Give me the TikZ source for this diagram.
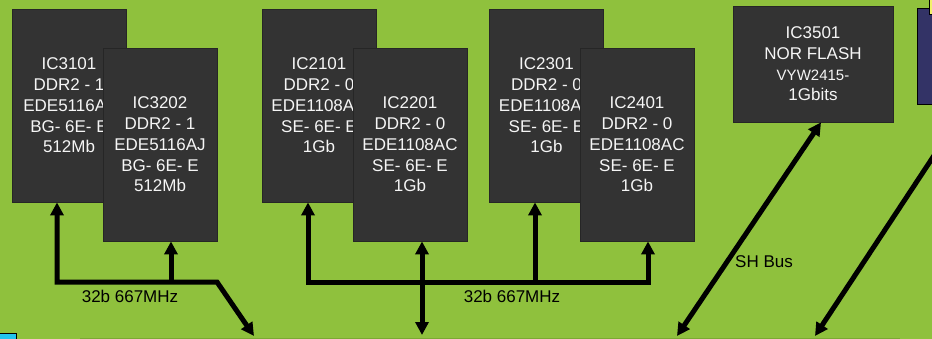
\documentclass[tikz,border=0pt]{standalone}
\usepackage{fontspec}
\setmainfont{Liberation Sans}
\usetikzlibrary{arrows.meta}
\definecolor{bg}{HTML}{8FC13D}
\definecolor{chipfill}{HTML}{333333}
\definecolor{navy}{HTML}{333366}
\definecolor{ylw}{HTML}{F2F26A}
\definecolor{cyanbox}{HTML}{22C4EE}
\definecolor{edgegreen}{HTML}{7CA834}
\tikzset{
  chip/.style={draw=black!85, line width=0.8pt, fill=chipfill, text=white!96!black,
    align=center, font=\fontsize{17}{20.7}\selectfont, inner sep=0pt},
  memchip/.style={chip, minimum width=114pt, minimum height=193pt},
  bus/.style={line width=5pt, draw=black},
  tip/.style={-{Triangle[length=13pt,width=13pt]}},
  dtip/.style={{Triangle[length=13pt,width=13pt]}-{Triangle[length=13pt,width=13pt]}},
  lbl/.style={font=\fontsize{17}{20}\selectfont, text=black, inner sep=0pt},
}
\begin{document}
\begin{tikzpicture}[x=1pt,y=-1pt]
\useasboundingbox (0,0) rectangle (932,339);
\clip (0,0) rectangle (932,339);
\fill[bg] (0,0) rectangle (932,339);

% memory chips
\node[memchip] (ic3101) at (69,105.5) {IC3101\\DDR2 - 1\\EDE5116AJ\\BG- 6E- E\\512Mb};
\node[memchip] (ic3202) at (160,144.5) {IC3202\\DDR2 - 1\\EDE5116AJ\\BG- 6E- E\\512Mb};
\node[memchip] (ic2101) at (319,105.5) {IC2101\\DDR2 - 0\\EDE1108AC\\SE- 6E- E\\1Gb};
\node[memchip] (ic2201) at (410,144.5) {IC2201\\DDR2 - 0\\EDE1108AC\\SE- 6E- E\\1Gb};
\node[memchip] (ic2301) at (546.5,105.5) {IC2301\\DDR2 - 0\\EDE1108AC\\SE- 6E- E\\1Gb};
\node[memchip] (ic2401) at (637,144.5) {IC2401\\DDR2 - 0\\EDE1108AC\\SE- 6E- E\\1Gb};

% NOR flash
\node[chip, minimum width=160pt, minimum height=116pt] (ic3501) at (813,64)
  {IC3501\\NOR FLASH\\{\fontsize{15}{20.7}\selectfont VYW2415-}\\1Gbits};

% partial boxes at the edges
\node[draw=black, line width=0.8pt, fill=navy, anchor=north west,
  minimum width=60pt, minimum height=96pt, inner sep=0pt] (cpu) at (917,8) {};
\node[draw=black, line width=0.8pt, fill=ylw, anchor=north west,
  minimum width=12pt, minimum height=16pt, inner sep=0pt] (ylwbox) at (929,-2) {};
\node[draw=black, line width=0.8pt, fill=cyanbox, anchor=north west,
  minimum width=17pt, minimum height=12pt, inner sep=0pt] (cybox) at (-1,333) {};
\draw[edgegreen, line width=1pt] (80,338.6) -- (900,338.6);

% coordinates
\coordinate (j1a) at (57,282);
\coordinate (j1b) at (171,282);
\coordinate (j1c) at (217,282);
\coordinate (o1) at (254,336);
\coordinate (j2a) at (308,282);
\coordinate (j2b) at (535,282);
\coordinate (j2c) at (648,282);
\coordinate (m2) at (422,282);
\coordinate (o2) at (422,335);
\coordinate (o3) at (677,336);
\coordinate (s3) at (821,122);
\coordinate (o4) at (815,336);
\coordinate (c4) at (968,104);

% bus group 1
\draw[bus, dtip] (ic3101.south -| j1a) -- (j1a) -- (j1c) -- (o1);
\draw[bus, tip] (j1b) -- (ic3202.south -| j1b);
% bus group 2
\draw[bus, dtip] (ic2101.south -| j2a) -- (j2a) -- (j2c) -- (ic2401.south -| j2c);
\draw[bus, tip] (j2b) -- (ic2301.south -| j2b);
\draw[bus, dtip] (ic2201.south -| m2) -- (o2);
% SH bus
\draw[bus, dtip] (o3) -- (s3 |- ic3501.south);
\draw[bus, tip] (c4) -- (o4);

% labels
\node[lbl] (l1) at (130,296) {32b 667MHz};
\node[lbl] (l2) at (512,296) {32b 667MHz};
\node[lbl, anchor=west] (l3) at (735,262) {SH Bus};
\end{tikzpicture}
\end{document}
